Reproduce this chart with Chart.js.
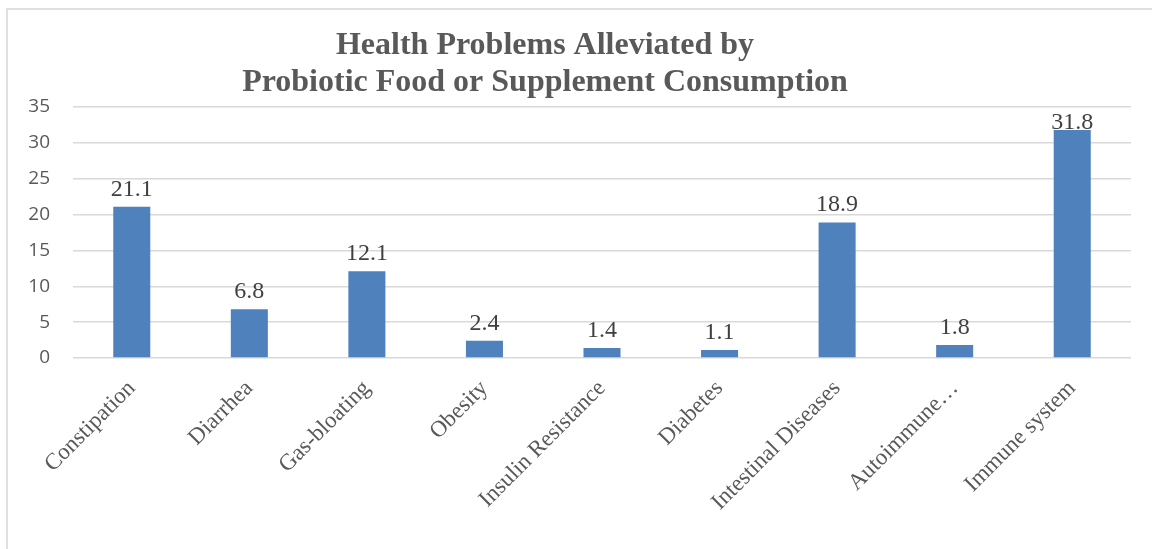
<!DOCTYPE html>
<html>
<head>
<meta charset="utf-8">
<script src="https://cdn.jsdelivr.net/npm/chart.js@4"></script>
<style>
  html, body { margin: 0; padding: 0; background: #fff; }
  #wrap { position: relative; width: 1152px; height: 549px; overflow: hidden; }
  #frame { position: absolute; left: 6px; top: 8px; width: 1200px; height: 600px;
           border: 2px solid #e0e0e0; box-sizing: border-box; }
  canvas { position: absolute; left: 0; top: 0; }
</style>
</head>
<body>
<div id="wrap">
  <div id="frame"></div>
  <canvas id="chart" width="1152" height="549"></canvas>
</div>
<script>
// categories and values (percent of respondents)
const categories = ['Constipation', 'Diarrhea', 'Gas-bloating', 'Obesity', 'Insulin Resistance',
  'Diabetes', 'Intestinal Diseases', 'Autoimmune…', 'Immune system'];
const values = [21.1, 6.8, 12.1, 2.4, 1.4, 1.1, 18.9, 1.8, 31.8];
const yTicks = [0, 5, 10, 15, 20, 25, 30, 35];
const titleLines = ['Health Problems Alleviated by', 'Probiotic Food or Supplement Consumption'];

const grey = '#595959';

// two-line title, centred on the whole chart box
const titlePlugin = {
  id: 'titleLines',
  afterDraw(chart) {
    const ctx = chart.ctx;
    ctx.save();
    ctx.fillStyle = grey;
    ctx.font = 'bold 32px "Liberation Serif", "Times New Roman", serif';
    ctx.textAlign = 'center';
    ctx.textBaseline = 'alphabetic';
    ctx.fillText(titleLines[0], 545, 54);
    ctx.fillText(titleLines[1], 545, 91);
    ctx.restore();
  }
};

// value labels above each bar, kept inside the plot area
const valueLabels = {
  id: 'valueLabels',
  afterDatasetsDraw(chart) {
    const ctx = chart.ctx;
    const meta = chart.getDatasetMeta(0);
    ctx.save();
    ctx.fillStyle = '#404040';
    ctx.font = '24px "Liberation Serif", "Times New Roman", serif';
    ctx.textAlign = 'center';
    ctx.textBaseline = 'alphabetic';
    meta.data.forEach((bar, i) => {
      let y = bar.y - 11;
      y = Math.max(y, chart.chartArea.top + 22);
      ctx.fillText(values[i].toFixed(1), bar.x, y);
    });
    ctx.restore();
  }
};

new Chart(document.getElementById('chart'), {
  type: 'bar',
  data: {
    labels: categories,
    datasets: [{
      data: values,
      backgroundColor: '#4f81bd',
      borderWidth: 0,
      barPercentage: 0.315,
      categoryPercentage: 1
    }]
  },
  options: {
    responsive: false,
    animation: false,
    devicePixelRatio: 1,
    layout: { padding: { top: 107, right: 21, left: 0, bottom: 0 } },
    plugins: {
      legend: { display: false },
      title: { display: false },
      tooltip: { enabled: false }
    },
    scales: {
      x: {
        grid: { display: false },
        border: { display: false },
        ticks: {
          color: grey,
          maxRotation: 45,
          minRotation: 45,
          autoSkip: false,
          padding: 9,
          font: { family: '"Liberation Serif", "Times New Roman", serif', size: 23 }
        },
        afterFit(scale) { scale.height = 191; }
      },
      y: {
        min: 0,
        max: 35,
        afterBuildTicks(scale) { scale.ticks = yTicks.map(v => ({ value: v })); },
        grid: { color: '#d9d9d9', lineWidth: 1.5, drawTicks: false },
        border: { display: false },
        ticks: {
          color: grey,
          padding: 23,
          font: { family: '"Open Sans", sans-serif', size: 19 }
        },
        afterFit(scale) { scale.width = 73; }
      }
    }
  },
  plugins: [titlePlugin, valueLabels]
});
</script>
</body>
</html>
